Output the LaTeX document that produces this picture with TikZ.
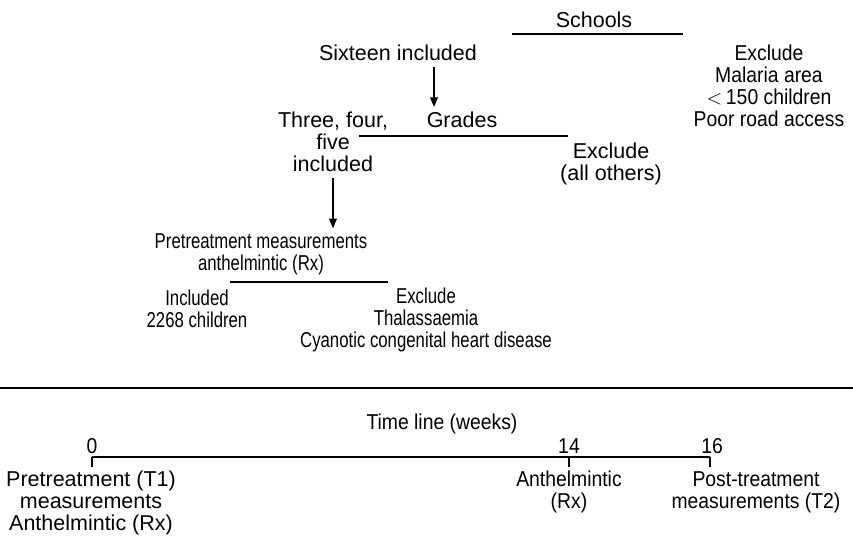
\documentclass[tikz,border=0pt]{standalone}
\usepackage{fontspec}
\setmainfont{Liberation Sans}
\newfontfamily\nfont[FakeStretch=0.78]{Liberation Sans}
\newfontfamily\tfont[FakeStretch=0.9]{Liberation Sans}
\usetikzlibrary{arrows,positioning}
\tikzset{
  lbl/.style={align=center, inner sep=0pt, font=\fontsize{21.5}{22}\selectfont},
  nlbl/.style={lbl, font=\nfont\fontsize{21.5}{22}\selectfont},
  tlbl/.style={lbl, font=\tfont\fontsize{21.5}{22}\selectfont},
  flow/.style={-triangle 45, line width=1.2pt, shorten <=6pt, shorten >=5pt},
  bar/.style={line width=1.2pt},
}

\begin{document}
\begin{tikzpicture}[x=1pt, y=-1pt]
    \useasboundingbox (0,0) rectangle (853,537);
    % selection of schools and grades
    \node[lbl] (schools) at (594,20) {Schools};
    \node[lbl] (sixteen) at (398,53) {Sixteen included};
    \node[tlbl] (exschool) at (769,86) {Exclude\\Malaria area\\$<$\,150 children\\Poor road access};
    \node[lbl] (grades) at (462,120) {Grades};
    \node[lbl] (three) at (333,142) {Three, four,\\five\\included};
    \node[lbl] (exgrade) at (611,164) {Exclude\\(all others)};
    \node[nlbl] (pretreat) at (261,254) {Pretreatment measurements\\anthelmintic (Rx)};
    \node[nlbl] (incl) at (197,309) {Included\\2268 children};
    \node[nlbl] (exchild) at (426,320) {Exclude\\Thalassaemia\\Cyanotic congenital heart disease};
    \coordinate (sl) at (512,34);  \coordinate (sr) at (683,34);
    \coordinate (gl) at (359,136); \coordinate (gr) at (568,136);
    \coordinate (pl) at (230,282); \coordinate (pr) at (388,282);
    \draw[bar] (sl) -- (sr);
    \draw[bar] (gl) -- (gr);
    \draw[bar] (pl) -- (pr);
    \draw[flow] ([xshift=36]sixteen.south) -- ([xshift=-28]grades.north);
    \draw[flow] (three.south) -- (three.south |- pretreat.north);
    % separator
    \coordinate (ml) at (0,388); \coordinate (mr) at (853,388);
    \draw[bar] (ml) -- (mr);
    % time line
    \node[tlbl] (timeline) at (442,424) {Time line (weeks)};
    \coordinate (t0) at (92,457);
    \coordinate (t14) at (569,457);
    \coordinate (t16) at (710,457);
    \draw[bar] (t0) -- (t16);
    \foreach \t in {t0,t14,t16}
        \draw[bar] (\t) -- ++(0,10);
    \node[tlbl] (w0) at (92,446) {0};
    \node[tlbl] (w14) at (569,446) {14};
    \node[tlbl] (w16) at (712,446) {16};
    \node[lbl] (first) at (91,503) {Pretreatment (T1)\\measurements\\Anthelmintic (Rx)};
    \node[tlbl] (rx) at (569,492) {Anthelmintic\\(Rx)};
    \node[tlbl] (post) at (756,492) {Post-treatment\\measurements (T2)};
\end{tikzpicture}
\end{document}
